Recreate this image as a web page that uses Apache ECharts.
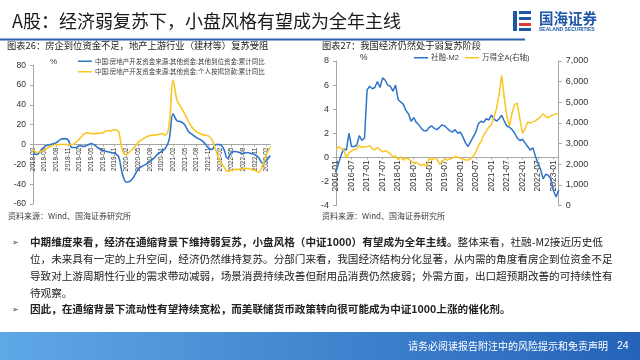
<!DOCTYPE html>
<html><head><meta charset="utf-8">
<script src="https://cdn.jsdelivr.net/npm/echarts@6/dist/echarts.min.js"></script>
<style>html,body{margin:0;padding:0;background:#fff}#c{width:640px;height:360px}</style>
</head><body><div id="c"></div>
<script>
function months(y0, m0, y1, m1) {
  const a = []; let y = y0, m = m0;
  while (y < y1 || (y === y1 && m <= m1)) { a.push(y + '-' + String(m).padStart(2, '0')); m++; if (m > 12) { m = 1; y++; } }
  return a;
}
// Chart 26 (left): 2018-02 .. 2023-03, cumulative YoY %
const leftMonths = months(2018, 2, 2023, 3);
const leftNames = ['中国:房地产开发资金来源:其他资金:其他到位资金:累计同比', '中国:房地产开发资金来源:其他资金:个人按揭贷款:累计同比'];
const leftOther = [-9,-10,-6,-2,-0.5,0.5,2,5,6,5,-3,-3,-1,-2,-0.5,1,-1,-4,-6,-7,-8,-9,-12,-30,-38,-37,-32,-25,-22,-20,-17,-14,-10,-7,-4,5,31,24,23,20,13,10,7,5,2,-3,-5,0,0,-4,-14,-8,-7,-8,-9,-8,-9,-10,-13,-19,-16,-11];
const leftMortgage = [-5,-8,-7,-5,-3,-1,0,0,0,0,0,2,6,10,12,11,11,11.5,12,14,14,15,13,-6,-10,-7,-3,2,5,7.5,9,9.5,10,11,9.5,20,65,45,38,31,23,17,13,11,9.5,9,5,-6,-16,-22,-27,-26,-25,-25,-24.5,-24,-25,-26,-28,-21,-10,-2];
const leftTicks = [-60, 80, 20];
// Chart 27 (right): 2016-01 .. 2023-03
const rightMonths = months(2016, 1, 2023, 3);
const rightNames = ['社融-M2', '万得全A(右轴)'];
const rightSpread = [
  -1.2,-0.5,0.2,0.7,0.6,2.0,0.9,0.9,1.0,1.8,1.4,1.6,
  5.6,5.9,5.7,5.8,6.3,5.8,6.6,6.4,6.0,5.9,5.5,6.0,
  4.8,4.6,4.4,3.9,3.6,3.0,3.3,2.9,2.7,2.4,2.2,2.2,
  2.5,2.6,2.4,2.3,2.5,2.7,2.6,2.4,2.2,2.1,2.3,2.0,
  2.1,1.7,1.2,0.9,1.3,1.7,2.1,2.8,3.0,2.9,3.2,3.1,
  3.5,3.2,3.0,3.2,3.5,3.0,2.6,2.5,2.3,2.0,1.6,1.4,
  1.5,1.2,0.9,0.6,0.8,0.1,-0.5,-1.0,-1.8,-1.4,-1.5,-1.8,
  -2.8,-3.3,-2.7];
const rightWindA = [
  2700,2850,2750,2700,2300,2550,2650,2700,2750,2900,2800,2850,
  2850,2900,2750,2700,2800,2700,2600,2650,2600,2500,2350,2400,
  2220,2350,2200,2300,2250,2150,2050,2100,2000,1950,2000,1900,
  2300,2200,2300,2250,2000,2150,2250,2200,2250,2300,2350,2350,
  2300,2250,2200,2200,2250,2400,2600,2900,3100,3400,3600,3800,
  3900,4300,4700,5400,6300,5200,4300,3850,4500,4900,4950,4200,
  3500,3700,4050,4000,4050,4100,4200,4300,4450,4300,4250,4350,
  4400,4450,4400];
const rightLeftTicks = [-4, 8, 2];
const rightRightTicks = [0, 7000, 1000];

const BLUE = '#2E75C9', YELLOW = '#F9C623', AX = '#A6A6A6', LBL = '#333';
const FONT = '"Liberation Sans","Noto Sans CJK SC",sans-serif';
const CJK = '"Noto Sans CJK SC",sans-serif';

// grid geometry
const G1 = { left: 33, top: 65.3, width: 237.3, height: 138.7 };
const G2 = { left: 336, top: 61, width: 222.7, height: 144.5 };
// shift x axes up from grid bottom to the zero line
const off1 = -G1.height * (0 - leftTicks[0]) / (leftTicks[1] - leftTicks[0]);
const off2 = -G2.height * (0 - rightLeftTicks[0]) / (rightLeftTicks[1] - rightLeftTicks[0]);

function txt(x, y, text, size, opts) {
  opts = opts || {};
  return { type: 'text', x: x, y: y, z: 10, style: {
    text: text, fill: opts.fill || '#222', font: (opts.weight || 'normal') + ' ' + size + 'px ' + (opts.family || CJK),
    textAlign: opts.align || 'left', textVerticalAlign: 'middle', verticalAlign: 'middle' } };
}
function richLine(x, y, parts, size) {
  let s = ''; const rich = {};
  parts.forEach(function (p, i) { s += '{p' + i + '|' + p[0] + '}'; rich['p' + i] = { fontSize: size, fontWeight: p[1] ? 'bold' : 'normal', fontFamily: CJK, fill: '#222' }; });
  return { type: 'text', x: x, y: y, z: 10, style: { text: s, rich: rich, textVerticalAlign: 'middle', verticalAlign: 'middle' } };
}

const BODY = 10.6;
const graphics = [
  txt(12, 21, 'A股：经济弱复苏下，小盘风格有望成为全年主线', 18, { fill: '#1a1a1a' }),
  { type: 'rect', shape: { x: 0, y: 38.5, width: 525, height: 2 }, style: { fill: '#2E5FAE' } },
  // logo
  { type: 'rect', shape: { x: 513, y: 11, width: 4, height: 20 }, style: { fill: '#1F57A8' } },
  { type: 'rect', shape: { x: 519, y: 11, width: 12, height: 3 }, style: { fill: '#1F57A8' } },
  { type: 'rect', shape: { x: 519, y: 17, width: 12, height: 3 }, style: { fill: '#1F57A8' } },
  { type: 'rect', shape: { x: 519, y: 23, width: 12, height: 3 }, style: { fill: '#E03C31' } },
  { type: 'rect', shape: { x: 519, y: 28, width: 12, height: 3 }, style: { fill: '#1F57A8' } },
  txt(539, 18, '国海证券', 14.5, { fill: '#1F57A8', weight: 'bold' }),
  txt(539, 30, 'SEALAND SECURITIES', 5, { fill: '#1F57A8', weight: 'bold', family: FONT }),
  // captions
  txt(7, 45, '图表26：房企到位资金不足，地产上游行业（建材等）复苏受阻', 9.3),
  txt(322, 45, '图表27：我国经济仍然处于弱复苏阶段', 9.3),
  txt(50, 62, '%', 8, { family: FONT, fill: LBL }),
  txt(360, 58, '%', 8.5, { family: FONT, fill: LBL }),
  txt(8, 216, '资料来源：Wind、国海证券研究所', 8, { fill: '#404040' }),
  txt(322, 216, '资料来源：Wind、国海证券研究所', 8, { fill: '#404040' }),
  // bullets
  txt(12, 242, '➢', 8, { fill: '#333' }),
  richLine(30, 242, [['中期维度来看，经济在通缩背景下维持弱复苏，小盘风格（中证1000）有望成为全年主线。', true], ['整体来看，社融-M2接近历史低', false]], BODY),
  richLine(30, 259, [['位，未来具有一定的上升空间，经济仍然维持复苏。分部门来看，我国经济结构分化显著，从内需的角度看房企到位资金不足', false]], BODY),
  richLine(30, 276, [['导致对上游周期性行业的需求带动减弱，场景消费持续改善但耐用品消费仍然疲弱；外需方面，出口超预期改善的可持续性有', false]], BODY),
  richLine(30, 292.5, [['待观察。', false]], BODY),
  txt(12, 309, '➢', 8, { fill: '#333' }),
  richLine(30, 309, [['因此，在通缩背景下流动性有望持续宽松，而美联储货币政策转向很可能成为中证1000上涨的催化剂。', true]], BODY),
  // footer
  { type: 'rect', shape: { x: 0, y: 332, width: 640, height: 28 }, style: { fill: new echarts.graphic.LinearGradient(0, 0, 1, 0, [{ offset: 0, color: '#5FA8E6' }, { offset: 1, color: '#2463B8' }]) } },
  txt(608, 346, '请务必阅读报告附注中的风险提示和免责声明', 10, { fill: '#fff', align: 'right' }),
  txt(617, 346, '24', 10.5, { fill: '#fff', family: FONT })
];

const chart = echarts.init(document.getElementById('c'), null, { renderer: 'canvas' });
chart.setOption({
  animation: false,
  backgroundColor: '#fff',
  textStyle: { fontFamily: FONT },
  grid: [G1, G2],
  legend: [
    { data: leftNames, orient: 'vertical', left: 73, top: 53, itemGap: 4, itemWidth: 14, itemHeight: 1.5, icon: 'rect',
      textStyle: { fontSize: 6.5, color: '#404040', fontFamily: CJK, padding: [0, 0, 0, -2] } },
    { data: rightNames, orient: 'horizontal', left: 409, top: 49, itemGap: 6, itemWidth: 14, itemHeight: 1.5, icon: 'rect',
      textStyle: { fontSize: 7.5, color: '#404040', fontFamily: FONT, padding: [0, 0, 0, -2] } }
  ],
  xAxis: [
    { gridIndex: 0, type: 'category', data: leftMonths, boundaryGap: false, position: 'bottom', offset: off1,
      axisLine: { onZero: false, lineStyle: { color: AX } }, axisTick: { show: true, interval: 2, length: 2, lineStyle: { color: AX } },
      axisLabel: { rotate: 90, interval: 2, fontSize: 6.5, color: LBL, margin: 3 }, splitLine: { show: false } },
    { gridIndex: 1, type: 'category', data: rightMonths, boundaryGap: false, position: 'bottom', offset: off2,
      axisLine: { onZero: false, lineStyle: { color: AX } }, axisTick: { show: true, interval: 5, length: 2, lineStyle: { color: AX } },
      axisLabel: { rotate: 90, interval: 5, fontSize: 8.5, color: LBL, margin: 3 }, splitLine: { show: false } }
  ],
  yAxis: [
    { gridIndex: 0, type: 'value', min: leftTicks[0], max: leftTicks[1], interval: leftTicks[2],
      axisLine: { show: true, onZero: false, lineStyle: { color: AX } }, axisTick: { show: true, length: 3, lineStyle: { color: AX } },
      axisLabel: { fontSize: 8.5, color: LBL, margin: 7 }, splitLine: { show: false } },
    { gridIndex: 1, type: 'value', position: 'left', min: rightLeftTicks[0], max: rightLeftTicks[1], interval: rightLeftTicks[2],
      axisLine: { show: true, onZero: false, lineStyle: { color: AX } }, axisTick: { show: true, length: 3, lineStyle: { color: AX } },
      axisLabel: { fontSize: 9, color: LBL, margin: 7 }, splitLine: { show: false } },
    { gridIndex: 1, type: 'value', position: 'right', min: rightRightTicks[0], max: rightRightTicks[1], interval: rightRightTicks[2],
      axisLine: { show: true, onZero: false, lineStyle: { color: AX } }, axisTick: { show: true, length: 3, lineStyle: { color: AX } },
      axisLabel: { fontSize: 9, color: LBL, margin: 7, formatter: function (v) { return v.toLocaleString('en-US'); } }, splitLine: { show: false } }
  ],
  series: [
    { name: leftNames[0], type: 'line', xAxisIndex: 0, yAxisIndex: 0, data: leftOther, showSymbol: false, smooth: 0.35, lineStyle: { color: BLUE, width: 1.6 }, itemStyle: { color: BLUE } },
    { name: leftNames[1], type: 'line', xAxisIndex: 0, yAxisIndex: 0, data: leftMortgage, showSymbol: false, smooth: 0.35, lineStyle: { color: YELLOW, width: 1.6 }, itemStyle: { color: YELLOW } },
    { name: rightNames[0], type: 'line', xAxisIndex: 1, yAxisIndex: 1, data: rightSpread, showSymbol: false, lineStyle: { color: BLUE, width: 1.5 }, itemStyle: { color: BLUE } },
    { name: rightNames[1], type: 'line', xAxisIndex: 1, yAxisIndex: 2, data: rightWindA, showSymbol: false, lineStyle: { color: YELLOW, width: 1.5 }, itemStyle: { color: YELLOW } }
  ],
  graphic: graphics
});
</script></body></html>
